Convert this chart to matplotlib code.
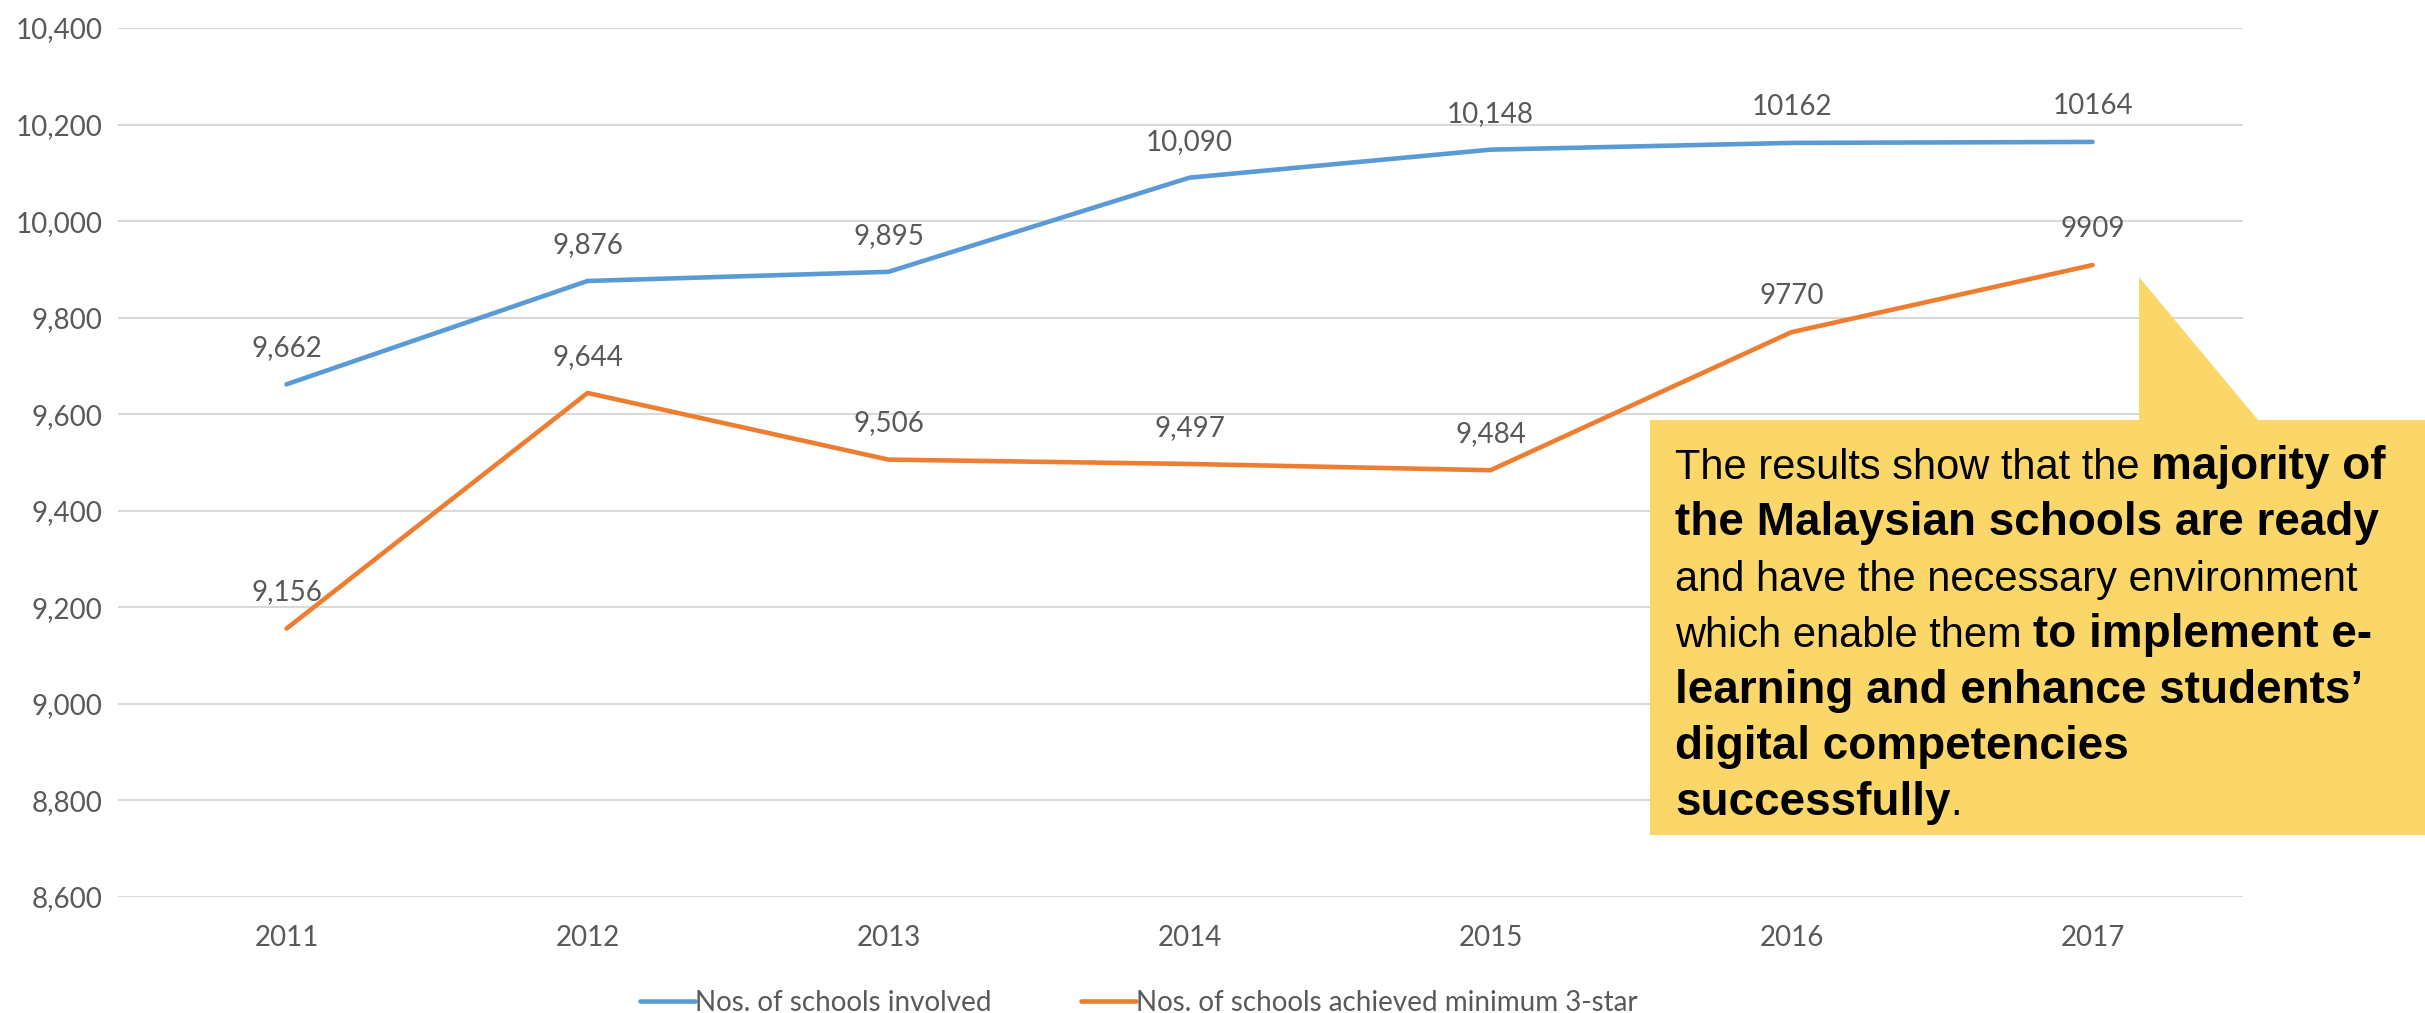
import matplotlib
matplotlib.use("Agg")
import matplotlib.pyplot as plt
from matplotlib.patches import Polygon
import numpy as np

years = ["2011", "2012", "2013", "2014", "2015", "2016", "2017"]
schools_involved = [9662, 9876, 9895, 10090, 10148, 10162, 10164]
schools_3star = [9156, 9644, 9506, 9497, 9484, 9770, 9909]
involved_labels = ["9,662", "9,876", "9,895", "10,090", "10,148", "10162", "10164"]
star_labels = ["9,156", "9,644", "9,506", "9,497", "9,484", "9770", "9909"]
y_ticks = [8600, 8800, 9000, 9200, 9400, 9600, 9800, 10000, 10200, 10400]

callout_lines = [
    [("The results show that the ", False), ("majority of", True)],
    [("the Malaysian schools are ready", True)],
    [("and have the necessary environment", False)],
    [("which enable them ", False), ("to implement e-", True)],
    [("learning and enhance students\u2019", True)],
    [("digital competencies", True)],
    [("successfully", True), (".", False)],
]

BLUE = "#5B9BD5"
ORANGE = "#ED7D31"
GREY = "#595959"
W, H = 2425, 1013

plt.rcParams["font.family"] = ["Lato", "DejaVu Sans"]

fig = plt.figure(figsize=(W / 100, H / 100), dpi=100)
ax = fig.add_axes([118 / W, 1 - 897 / H, (2243 - 118) / W, (897 - 28) / H])

x = np.arange(len(years))
ax.plot(x, schools_involved, color=BLUE, lw=3.3, label="Nos. of schools involved", solid_capstyle="round")
ax.plot(x, schools_3star, color=ORANGE, lw=3.3, label="Nos. of schools achieved minimum 3-star", solid_capstyle="round")

for xi, v, t in zip(x, schools_involved, involved_labels):
    ax.annotate(t, (xi, v), xytext=(0, 26), textcoords="offset points",
                ha="center", va="center", fontsize=20, color=GREY)
for xi, v, t in zip(x, schools_3star, star_labels):
    ax.annotate(t, (xi, v), xytext=(0, 26), textcoords="offset points",
                ha="center", va="center", fontsize=20, color=GREY)

ax.set_xlim(-0.56, 6.5)
ax.set_ylim(8600, 10400)
ax.set_xticks(x, years)
ax.set_yticks(y_ticks, [f"{t:,}" for t in y_ticks])
ax.tick_params(length=0, labelsize=20, colors=GREY)
ax.tick_params(axis="x", pad=20)
ax.tick_params(axis="y", pad=11)
ax.grid(axis="y", color="#D9D9D9", lw=1.5)
ax.set_axisbelow(True)
for s in ax.spines.values():
    s.set_visible(False)

leg = fig.legend(loc="center", bbox_to_anchor=(1139 / W, 1 - 1003 / H), ncol=2, frameon=False,
                 fontsize=20, handlelength=2.0, handletextpad=0.0, columnspacing=3.2)
for t in leg.get_texts():
    t.set_color(GREY)

# yellow callout with pointer towards the 2017 values
pts = [(1650, 420), (2139, 420), (2139, 277), (2258, 420), (2425, 420), (2425, 835), (1650, 835)]
fig.patches.append(Polygon([(px / W, 1 - py / H) for px, py in pts], closed=True,
                           transform=fig.transFigure, facecolor="#FBD769", edgecolor="none", zorder=5))

renderer = fig.canvas.get_renderer()
base_y = 479
for i, line in enumerate(callout_lines):
    cur_x = 1675
    yy = 1 - (base_y + i * 56) / H
    for seg, bold in line:
        t = fig.text(cur_x / W, yy, seg, fontsize=33 if bold else 30, color="black",
                     va="baseline", ha="left", family=["Liberation Sans", "DejaVu Sans"],
                     fontweight="bold" if bold else "normal", zorder=6)
        bb = t.get_window_extent(renderer)
        cur_x += bb.width

fig.savefig("out.png", dpi=100)
